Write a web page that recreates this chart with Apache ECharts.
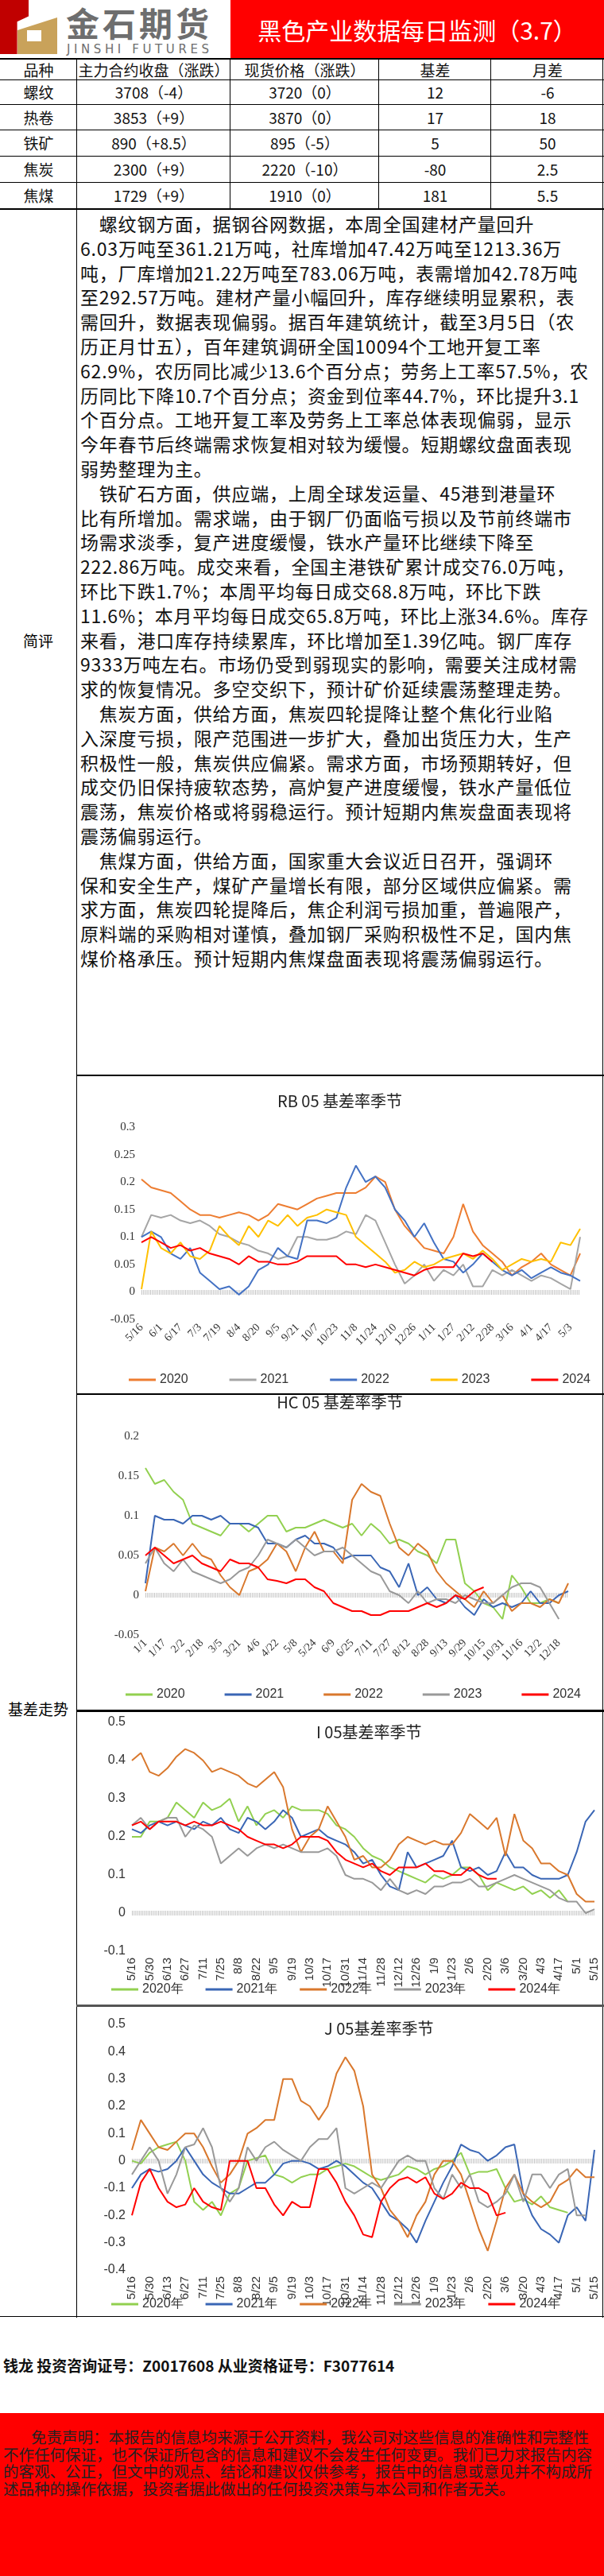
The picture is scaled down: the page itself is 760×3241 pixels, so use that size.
<!DOCTYPE html>
<html><head><meta charset="utf-8">
<script src="https://cdn.jsdelivr.net/npm/echarts@6/dist/echarts.min.js"></script>
<style>
body{margin:0;width:760px;height:3241px;position:relative;background:#fff;font-family:"Noto Sans CJK SC","Noto Sans",sans-serif;overflow:hidden}
.a{position:absolute}
.hl{position:absolute;left:0;width:760px;height:0;border-top:2px solid #000}
.vl{position:absolute;width:0;border-left:1.5px solid #000}
.cell{position:absolute;display:flex;align-items:center;justify-content:center;font-size:19px;color:#111;height:30px}
#txt{position:absolute;left:101px;top:266px;width:655px;font-size:23px;line-height:30.8px;color:#111;white-space:pre;letter-spacing:0.8px}
</style></head><body>
<!-- header -->
<div class="a" style="left:0;top:0;width:290px;height:73px;background:#fff">
  <div class="a" style="left:0;top:0;width:36px;height:68px;background:#C00000;clip-path:polygon(0 0,100% 0,100% 30%,60% 40%,60% 100%,0 100%)"></div>
  <div class="a" style="left:22px;top:22px;width:50px;height:46px;background:#C9A25A;clip-path:polygon(0 35%,100% 0,100% 100%,0 100%)"></div>
  <div class="a" style="left:34px;top:38px;width:18px;height:14px;background:#fff"></div>
  <div class="a" style="left:83px;top:0px;font-size:42px;font-weight:bold;color:#6E6E6E;letter-spacing:4px;line-height:56px">金石期货</div>
  <div class="a" style="left:84px;top:52px;font-size:15px;color:#6E6E6E;letter-spacing:4.6px;line-height:20px;font-family:'DejaVu Sans';white-space:nowrap">JINSHI FUTURES</div>
</div>
<div class="a" style="left:290px;top:0;width:470px;height:74px;background:#FF0000;color:#fff;font-size:30px;display:flex;align-items:center;justify-content:center">黑色产业数据每日监测（3.7）</div>
<div class="hl" style="top:73px"></div>
<div id="table"></div>
<div class="hl" style="top:262px"></div>
<div class="vl" style="left:96px;top:74px;height:2842px"></div>
<div class="vl" style="left:758px;top:74px;height:2842px"></div>
<div class="a" style="left:0;top:792px;width:96px;text-align:center;font-size:19px">简评</div>
<div class="a" style="left:0;top:2136px;width:96px;text-align:center;font-size:19px">基差走势</div>
<div id="txt"></div>
<div class="hl" style="top:1352px;left:96px;width:664px"></div>
<div class="hl" style="top:1753px;left:96px;width:664px"></div>
<div class="hl" style="top:2151px;left:96px;width:664px;border-top:3px solid #000"></div>
<div class="hl" style="top:2522px;left:96px;width:664px;border-top:3px solid #555"></div>
<div class="hl" style="top:2914px;border-top:1.5px solid #000"></div>
<div id="c1" class="a" style="left:97px;top:1354px;width:661px;height:399px"></div>
<div id="c2" class="a" style="left:97px;top:1755px;width:661px;height:396px"></div>
<div id="c3" class="a" style="left:97px;top:2154px;width:661px;height:368px"></div>
<div id="c4" class="a" style="left:97px;top:2525px;width:661px;height:389px"></div>
<div class="a" style="left:4px;top:2962px;font-size:19px;font-weight:bold;color:#111">钱龙 投资咨询证号：Z0017608 从业资格证号：F3077614</div>
<div class="a" style="left:0;top:3036px;width:760px;height:205px;background:#FF0000"></div>
<div class="a" style="left:4px;top:3055px;width:752px;font-size:19.5px;line-height:21.5px;color:#222;white-space:pre">        免责声明：本报告的信息均来源于公开资料，我公司对这些信息的准确性和完整性
不作任何保证，也不保证所包含的信息和建议不会发生任何变更。我们已力求报告内容
的客观、公正，但文中的观点、结论和建议仅供参考，报告中的信息或意见并不构成所
述品种的操作依据，投资者据此做出的任何投资决策与本公司和作者无关。</div>
<script>
// ---------- table data ----------
const tableHeader = ["品种","主力合约收盘（涨跌）","现货价格（涨跌）","基差","月差"];
const varieties = ["螺纹","热卷","铁矿","焦炭","焦煤"];
const futuresClose = ["3708（-4）","3853（+9）","890（+8.5）","2300（+9）","1729（+9）"];
const spotPrice = ["3720（0）","3870（0）","895（-5）","2220（-10）","1910（0）"];
const basisVals = ["12","17","5","-80","181"];
const spreadVals = ["-6","18","50","2.5","5.5"];

// ---------- commentary ----------
const commentaryLines = [
"　螺纹钢方面，据钢谷网数据，本周全国建材产量回升",
"6.03万吨至361.21万吨，社库增加47.42万吨至1213.36万",
"吨，厂库增加21.22万吨至783.06万吨，表需增加42.78万吨",
"至292.57万吨。建材产量小幅回升，库存继续明显累积，表",
"需回升，数据表现偏弱。据百年建筑统计，截至3月5日（农",
"历正月廿五），百年建筑调研全国10094个工地开复工率",
"62.9%，农历同比减少13.6个百分点；劳务上工率57.5%，农",
"历同比下降10.7个百分点；资金到位率44.7%，环比提升3.1",
"个百分点。工地开复工率及劳务上工率总体表现偏弱，显示",
"今年春节后终端需求恢复相对较为缓慢。短期螺纹盘面表现",
"弱势整理为主。",
"　铁矿石方面，供应端，上周全球发运量、45港到港量环",
"比有所增加。需求端，由于钢厂仍面临亏损以及节前终端市",
"场需求淡季，复产进度缓慢，铁水产量环比继续下降至",
"222.86万吨。成交来看，全国主港铁矿累计成交76.0万吨，",
"环比下跌1.7%；本周平均每日成交68.8万吨，环比下跌",
"11.6%；本月平均每日成交65.8万吨，环比上涨34.6%。库存",
"来看，港口库存持续累库，环比增加至1.39亿吨。钢厂库存",
"9333万吨左右。市场仍受到弱现实的影响，需要关注成材需",
"求的恢复情况。多空交织下，预计矿价延续震荡整理走势。",
"　焦炭方面，供给方面，焦炭四轮提降让整个焦化行业陷",
"入深度亏损，限产范围进一步扩大，叠加出货压力大，生产",
"积极性一般，焦炭供应偏紧。需求方面，市场预期转好，但",
"成交仍旧保持疲软态势，高炉复产进度缓慢，铁水产量低位",
"震荡，焦炭价格或将弱稳运行。预计短期内焦炭盘面表现将",
"震荡偏弱运行。",
"　焦煤方面，供给方面，国家重大会议近日召开，强调环",
"保和安全生产，煤矿产量增长有限，部分区域供应偏紧。需",
"求方面，焦炭四轮提降后，焦企利润亏损加重，普遍限产，",
"原料端的采购相对谨慎，叠加钢厂采购积极性不足，国内焦",
"煤价格承压。预计短期内焦煤盘面表现将震荡偏弱运行。"
];

// ---------- chart data ----------
const years = ["2020","2021","2022","2023","2024"];
const rbDates = "5/16 5/24 6/1 6/9 6/17 6/25 7/3 7/11 7/19 7/27 8/4 8/12 8/20 8/28 9/5 9/13 9/21 9/29 10/7 10/15 10/23 10/31 11/8 11/16 11/24 12/2 12/10 12/18 12/26 1/3 1/11 1/19 1/27 2/4 2/12 2/20 2/28 3/8 3/16 3/24 4/1 4/9 4/17 4/25 5/3 5/11".split(" ");
const rb2020 = [0.205,0.19,0.185,0.18,0.165,0.15,0.14,0.14,0.135,0.14,0.145,0.14,0.13,0.14,0.16,0.155,0.15,0.16,0.17,0.175,0.18,0.18,0.18,0.19,0.21,0.2,0.15,0.12,0.1,0.08,0.075,0.07,0.1,0.16,0.11,0.085,0.07,0.055,0.03,0.045,0.055,0.07,0.05,0.04,0.03,0.07];
const rb2021 = [0.1,0.14,0.135,0.14,0.13,0.125,0.13,0.12,0.105,0.1,0.09,0.085,0.075,0.07,0.06,0.065,0.1,0.1,0.095,0.095,0.1,0.11,0.105,0.14,0.13,0.09,0.05,0.015,0.03,0.05,0.02,0.04,0.03,0.05,0.01,0.01,0.04,0.03,0.04,0.03,0.02,0.03,0.025,0.015,0.005,0.1];
const rb2022 = [0.1,0.11,0.1,0.07,0.06,0.08,0.035,0.02,0.005,0.01,-0.005,0.01,0.04,0.05,0.08,0.065,0.06,0.13,0.13,0.125,0.135,0.19,0.23,0.2,0.21,0.19,0.15,0.13,0.1,0.125,0.09,0.06,0.055,0.035,0.05,0.07,0.055,0.04,0.03,0.04,0.025,0.035,0.045,0.035,0.03,0.02];
const rb2023 = [0.005,0.11,0.08,0.07,0.09,0.065,0.06,0.075,0.12,0.1,0.085,0.12,0.1,0.13,0.12,0.14,0.12,0.135,0.14,0.15,0.145,0.14,0.1,0.085,0.07,0.055,0.035,0.04,0.055,0.045,0.05,0.06,0.065,0.07,0.06,0.075,0.06,0.04,0.05,0.06,0.055,0.06,0.055,0.09,0.085,0.115];
const rb2024 = [0.09,0.1,0.09,0.08,0.085,0.075,0.08,0.07,0.065,0.06,0.05,0.065,0.055,0.055,0.05,0.05,0.055,0.065,0.065,0.065,0.065,0.05,0.05,0.045,0.05,0.045,0.04,0.035,0.03,0.04,0.045,0.045,0.045,0.07,0.065,0.07,0.055,'-','-','-','-','-','-','-','-','-'];

const hcDates = "1/1 1/9 1/17 1/25 2/2 2/10 2/18 2/26 3/5 3/13 3/21 3/29 4/6 4/14 4/22 4/30 5/8 5/16 5/24 6/1 6/9 6/17 6/25 7/3 7/11 7/19 7/27 8/4 8/12 8/20 8/28 9/5 9/13 9/21 9/29 10/7 10/15 10/23 10/31 11/8 11/16 11/24 12/2 12/10 12/18 12/26".split(" ");
const hc2020 = [0.16,0.14,0.145,0.13,0.12,0.09,0.085,0.08,0.075,0.09,0.09,0.08,0.09,0.1,0.1,0.08,0.085,0.085,0.09,0.095,0.09,0.085,0.09,0.075,0.09,0.08,0.065,0.07,0.065,0.055,0.05,0.04,0.07,0.07,0.015,0.005,-0.01,-0.015,-0.03,0.025,0.01,-0.01,-0.01,-0.005,-0.01,'-'];
const hc2021 = [0.015,0.1,0.095,0.095,0.09,0.1,0.1,0.095,0.1,0.09,0.09,0.09,0.085,0.065,0.065,0.06,0.07,0.075,0.065,0.065,0.06,0.045,0.05,0.05,0.05,0.035,0.03,0.01,0.04,0.0,0.01,-0.005,-0.01,0.0,-0.015,-0.025,-0.005,-0.015,-0.01,-0.015,-0.01,0.005,-0.01,-0.01,0.0,0.005];
const hc2022 = [0.005,0.06,0.055,0.065,0.05,0.065,0.05,0.045,0.025,0.01,0.0,0.03,0.035,0.045,0.065,0.055,0.03,0.06,0.08,0.055,0.055,0.04,0.12,0.14,0.13,0.125,0.09,0.06,0.05,0.065,0.055,0.03,0.015,0.005,-0.005,-0.015,0.005,-0.01,0.0,-0.02,-0.01,-0.01,-0.015,-0.005,-0.01,0.015];
const hc2023 = [0.04,0.06,0.04,0.03,0.045,0.03,0.025,0.02,0.015,0.02,0.03,0.035,0.05,0.07,0.065,0.06,0.07,0.06,0.05,0.055,0.055,0.06,0.05,0.04,0.03,0.025,0.005,0.0,-0.01,0.005,-0.01,-0.005,-0.005,-0.01,0.0,-0.005,-0.01,-0.01,0.0,0.01,0.015,0.015,0.01,-0.01,-0.03,'-'];
const hc2024 = [0.05,0.06,0.05,0.04,0.045,0.05,0.04,0.035,0.03,0.045,0.04,0.04,0.035,0.02,0.018,0.015,0.02,0.02,0.01,0.005,-0.01,-0.015,-0.02,-0.02,-0.025,-0.025,-0.02,-0.02,-0.02,-0.015,-0.01,-0.015,-0.01,0.0,-0.005,0.005,0.01,'-','-','-','-','-','-','-','-','-'];

const ijDates = "5/16 5/23 5/30 6/6 6/13 6/20 6/27 7/4 7/11 7/18 7/25 8/1 8/8 8/15 8/22 8/29 9/5 9/12 9/19 9/26 10/3 10/10 10/17 10/24 10/31 11/7 11/14 11/21 11/28 12/5 12/12 12/19 12/26 1/2 1/9 1/16 1/23 1/30 2/6 2/13 2/20 2/27 3/6 3/13 3/20 3/27 4/3 4/10 4/17 4/24 5/1 5/8 5/15".split(" ");
const i2020 = [0.2,0.2,0.24,0.24,0.25,0.29,0.27,0.25,0.29,0.27,0.28,0.3,0.24,0.28,0.23,0.26,0.27,0.25,0.28,0.27,0.27,0.27,0.26,0.23,0.22,0.2,0.17,0.15,0.14,0.12,0.11,0.1,0.09,0.08,0.1,0.09,0.1,0.12,0.12,0.1,0.06,0.08,0.07,0.06,0.07,0.05,0.06,0.04,0.06,0.03,'-','-','-'];
const i2021 = [0.22,0.21,0.23,0.24,0.23,0.24,0.23,0.22,0.24,0.23,0.25,0.22,0.21,0.25,0.24,0.22,0.24,0.27,0.25,0.2,0.21,0.22,0.2,0.19,0.18,0.16,0.13,0.14,0.1,0.07,0.06,0.16,0.12,0.13,0.14,0.15,0.19,0.12,0.11,0.12,0.1,0.11,0.16,0.12,0.12,0.1,0.09,0.09,0.09,0.1,0.16,0.24,0.27];
const i2022 = [0.4,0.42,0.37,0.36,0.38,0.41,0.43,0.42,0.4,0.37,0.38,0.37,0.36,0.34,0.33,0.35,0.37,0.33,0.22,0.16,0.2,0.22,0.28,0.24,0.2,0.14,0.15,0.12,0.12,0.14,0.18,0.2,0.19,0.18,0.19,0.18,0.18,0.21,0.26,0.24,0.22,0.25,0.15,0.26,0.19,0.17,0.13,0.13,0.11,0.1,0.05,0.03,0.03];
const i2023 = [0.23,0.25,0.22,0.24,0.25,0.25,0.2,0.23,0.22,0.2,0.13,0.15,0.17,0.15,0.17,0.18,0.17,0.18,0.17,0.16,0.16,0.16,0.17,0.15,0.1,0.09,0.09,0.08,0.06,0.09,0.06,0.05,0.06,0.05,0.07,0.07,0.08,0.08,0.09,0.07,0.07,0.08,0.09,0.1,0.09,0.08,0.07,0.06,0.04,0.03,0.03,0.0,0.01];
const i2024 = [0.23,0.24,0.22,0.24,0.24,0.24,0.23,0.24,0.23,0.23,0.24,0.23,0.22,0.2,0.19,0.18,0.18,0.17,0.18,0.2,0.2,0.2,0.19,0.16,0.14,0.13,0.12,0.13,0.11,0.1,0.12,0.12,0.12,0.13,0.11,0.11,0.1,0.1,0.12,0.1,0.09,0.09,'-','-','-','-','-','-','-','-','-','-','-'];

const j2020 = [0.0,-0.01,0.03,0.05,0.06,0.07,0.0,-0.15,-0.18,-0.15,-0.2,-0.12,-0.1,0.0,0.01,0.02,-0.05,-0.06,-0.08,-0.06,-0.05,-0.05,-0.03,-0.02,-0.01,-0.02,-0.04,-0.06,-0.07,-0.06,-0.05,-0.02,-0.03,-0.05,-0.03,-0.02,0.0,0.03,-0.05,-0.04,-0.04,-0.03,-0.1,-0.15,-0.14,-0.16,-0.13,-0.17,-0.18,-0.19,'-','-','-'];
const j2021 = [-0.1,-0.05,-0.03,-0.04,-0.03,0.0,0.05,0.0,-0.05,-0.08,-0.1,-0.12,-0.12,-0.1,-0.08,-0.08,-0.05,-0.01,0.0,0.0,-0.01,-0.03,-0.02,0.0,-0.02,-0.05,-0.08,-0.1,-0.15,-0.2,-0.22,-0.25,-0.3,-0.22,-0.15,-0.08,-0.02,0.06,0.04,0.03,0.0,0.02,0.05,0.06,-0.12,-0.2,-0.25,-0.27,-0.3,-0.2,-0.17,-0.22,0.04];
const j2022 = [0.04,0.15,0.1,0.05,0.04,0.07,0.1,0.1,0.05,-0.02,-0.08,-0.05,0.0,0.1,0.12,0.15,0.15,0.3,0.3,0.22,0.2,0.15,0.2,0.32,0.38,0.33,0.2,-0.05,-0.1,-0.18,-0.22,-0.28,-0.2,-0.15,-0.05,0.0,0.0,-0.05,-0.15,-0.25,-0.33,-0.22,-0.1,-0.05,-0.12,-0.15,-0.17,-0.15,-0.09,-0.07,-0.03,-0.06,-0.06];
const j2023 = [-0.05,0.0,0.05,0.0,-0.12,-0.05,0.05,0.06,0.12,0.05,-0.1,-0.15,-0.1,0.05,0.0,0.05,0.07,0.04,0.02,0.0,0.05,0.08,0.08,0.12,-0.1,-0.12,-0.1,-0.08,-0.1,-0.05,0.0,0.02,0.0,0.0,-0.1,-0.14,-0.05,-0.1,-0.05,-0.15,-0.17,-0.15,-0.12,-0.05,-0.15,-0.05,-0.05,-0.1,-0.05,-0.03,-0.2,-0.2,'-'];
const j2024 = [-0.2,-0.08,-0.03,-0.1,-0.15,-0.17,-0.16,-0.1,-0.15,-0.17,-0.18,0.0,0.0,0.0,-0.1,-0.1,-0.16,-0.2,-0.15,-0.17,-0.17,-0.03,-0.03,-0.08,-0.15,-0.2,-0.27,-0.28,-0.15,-0.1,-0.07,-0.06,-0.08,-0.06,-0.12,-0.14,-0.12,-0.08,-0.1,-0.1,-0.12,-0.2,-0.19,'-','-','-','-','-','-','-','-','-','-'];

// ---------- build table ----------
(function(){
  const colX=[0,97,290,477,618,760], rowY=[75,100,131,163,196,229,262];
  const t=document.getElementById('table'); let h='';
  const rows=[tableHeader].concat(varieties.map((v,i)=>[v,futuresClose[i],spotPrice[i],basisVals[i],spreadVals[i]]));
  rows.forEach((r,ri)=>{r.forEach((c,ci)=>{
    h+=`<div class="cell" style="left:${colX[ci]}px;top:${rowY[ri]}px;width:${colX[ci+1]-colX[ci]}px;height:${rowY[ri+1]-rowY[ri]}px">${c}</div>`;});
    if(ri>0) h+=`<div class="hl" style="top:${rowY[ri]}px;border-top-width:1.5px"></div>`;});
  [97,290,477,618].forEach(x=>{h+=`<div class="vl" style="left:${x-1}px;top:75px;height:187px"></div>`});
  t.innerHTML=h;
  document.getElementById('txt').textContent=commentaryLines.join('\n');
})();

// ---------- charts ----------
function mk(id,cfg){
  const ch=echarts.init(document.getElementById(id));
  const series=cfg.data.map((d,k)=>({name:cfg.names[k],type:'line',data:d,showSymbol:false,
    lineStyle:{width:2,color:cfg.colors[k]},itemStyle:{color:cfg.colors[k]},z:k+2,
    markLine:k===0?{silent:true,symbol:'none',label:{show:false},data:[{yAxis:0}],
      lineStyle:{color:'#c4c4c4',width:6,type:[1,1.2]},z:1}:undefined}));
  ch.setOption({animation:false,
    title:{text:cfg.title,left:cfg.titleLeft,top:cfg.titleTop,textStyle:{fontSize:20,fontWeight:'normal',color:'#222',fontFamily:'"Liberation Sans Narrow","Noto Sans CJK SC",sans-serif'}},
    legend:{data:cfg.names,bottom:cfg.legBottom,left:cfg.legLeft,itemGap:cfg.legGap,itemWidth:34,itemHeight:3,icon:'rect',
      textStyle:{fontSize:16,color:'#333',fontFamily:'"Liberation Sans Narrow",sans-serif'}},
    grid:cfg.grid,
    xAxis:{type:'category',data:cfg.cats,boundaryGap:false,
      axisLine:{show:false},axisTick:{show:false},
      axisLabel:{interval:1,rotate:cfg.rot,fontSize:cfg.xfs,color:'#333',fontFamily:cfg.font,margin:8}},
    yAxis:{type:'value',min:cfg.min,max:cfg.max,interval:cfg.interval,splitLine:{show:false},axisLine:{show:false},axisTick:{show:false},
      axisLabel:{fontSize:cfg.yfs,color:'#333',fontFamily:cfg.font,formatter:v=>String(+v.toFixed(2))}},
    series});
}
const serif='"Liberation Serif","DejaVu Serif",serif';
const narrow='"Liberation Sans Narrow","Liberation Sans",sans-serif';
mk('c1',{title:'RB 05 基差率季节',titleLeft:'center',titleTop:16,cats:rbDates,names:years,
  data:[rb2020,rb2021,rb2022,rb2023,rb2024],colors:['#ED7D31','#A5A5A5','#4472C4','#FFC000','#FF0000'],
  grid:{left:81,right:28,top:64,bottom:93},min:-0.05,max:0.3,interval:0.05,rot:45,xfs:14,yfs:15,font:serif,
  legBottom:4,legLeft:60,legGap:52});
mk('c2',{title:'HC 05 基差率季节',titleLeft:'center',titleTop:-6,cats:hcDates,names:years,
  data:[hc2020,hc2021,hc2022,hc2023,hc2024],colors:['#92D050','#3A66B5','#D9782D','#999999','#FF0000'],
  grid:{left:86,right:43,top:52,bottom:94},min:-0.05,max:0.2,interval:0.05,rot:45,xfs:14,yfs:15,font:serif,
  legBottom:6,legLeft:56,legGap:50});
mk('c3',{title:'I 05基差率季节',titleLeft:296,titleTop:10,cats:ijDates,names:years.map(y=>y+'年'),
  data:[i2020,i2021,i2022,i2023,i2024],colors:['#92D050','#3A66B5','#D9782D','#999999','#FF0000'],
  grid:{left:69,right:10,top:13,bottom:67},min:-0.1,max:0.5,interval:0.1,rot:90,xfs:15,yfs:16,font:narrow,
  legBottom:6,legLeft:38,legGap:28});
mk('c4',{title:'J 05基差率季节',titleLeft:306,titleTop:12,cats:ijDates,names:years.map(y=>y+'年'),
  data:[j2020,j2021,j2022,j2023,j2024],colors:['#92D050','#3A66B5','#D9782D','#999999','#FF0000'],
  grid:{left:69,right:10,top:22,bottom:58},min:-0.4,max:0.5,interval:0.1,rot:90,xfs:15,yfs:16,font:narrow,
  legBottom:2,legLeft:38,legGap:28});
</script></body></html>
